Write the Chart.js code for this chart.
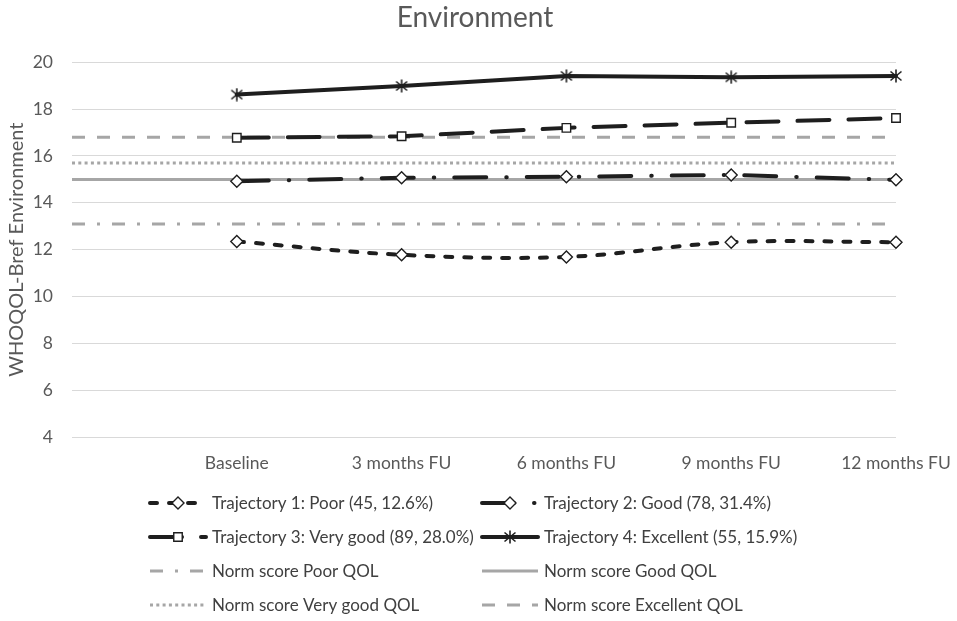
<!DOCTYPE html>
<html>
<head>
<meta charset="utf-8">
<script src="https://cdn.jsdelivr.net/npm/chart.js@4.4.1/dist/chart.umd.min.js"></script>
<style>
  html, body { margin: 0; padding: 0; background: #ffffff; }
  #wrap { width: 957px; height: 621px; }
</style>
</head>
<body>
<div id="wrap"><canvas id="c" width="957" height="621"></canvas></div>
<script>
// Time points (the first slot is an empty lead-in so the norm lines start at the axis)
const categories = ['', 'Baseline', '3 months FU', '6 months FU', '9 months FU', '12 months FU'];

// Mean WHOQOL-Bref Environment score per trajectory group
const trajPoor      = [null, 12.35, 11.78, 11.69, 12.32, 12.32];
const trajGood      = [null, 14.92, 15.07, 15.11, 15.19, 14.98];
const trajVeryGood  = [null, 16.78, 16.84, 17.20, 17.42, 17.62];
const trajExcellent = [null, 18.62, 18.99, 19.42, 19.36, 19.42];

// Population norm scores per QOL level
const normPoor      = [13.1, 13.1, 13.1, 13.1, 13.1, 13.1];
const normGood      = [15.0, 15.0, 15.0, 15.0, 15.0, 15.0];
const normVeryGood  = [15.7, 15.7, 15.7, 15.7, 15.7, 15.7];
const normExcellent = [16.8, 16.8, 16.8, 16.8, 16.8, 16.8];

const seriesLabels = [
  'Trajectory 1: Poor (45, 12.6%)',
  'Trajectory 2: Good (78, 31.4%)',
  'Trajectory 3: Very good (89, 28.0%)',
  'Trajectory 4: Excellent (55, 15.9%)',
  'Norm score Poor QOL',
  'Norm score Good QOL',
  'Norm score Very good QOL',
  'Norm score Excellent QOL'
];

const chartTitle = 'Environment';
const yTitle = 'WHOQOL-Bref Environment';
const yMin = 4, yMax = 20, yStep = 2;

const INK = '#1e1e1e';
const GREY = '#a6a6a6';
const TEXT = '#595959';
const FONT = 'Lato, "Open Sans", sans-serif';

// Asterisk-style marker: an X crossed by a vertical stroke
function makeStar(size) {
  const cv = document.createElement('canvas');
  cv.width = size; cv.height = size;
  const g = cv.getContext('2d');
  g.strokeStyle = INK; g.lineWidth = 1.6; g.lineCap = 'butt';
  const m = 1.5, s = size - 1.5;
  g.beginPath();
  g.moveTo(m, m + 1); g.lineTo(s, s - 1);
  g.moveTo(s, m + 1); g.lineTo(m, s - 1);
  g.moveTo(size / 2, 0.5); g.lineTo(size / 2, size - 0.5);
  g.stroke();
  return cv;
}
const starMarker = makeStar(14);

function traj(label, data, dash, pointStyle, tension) {
  return {
    label, data,
    borderColor: INK, borderWidth: 4, borderDash: dash, borderCapStyle: 'round',
    pointStyle, pointRadius: 6, pointHoverRadius: 6,
    pointBackgroundColor: '#ffffff', pointBorderColor: INK, pointBorderWidth: 1.4,
    tension: tension, fill: false
  };
}
function norm(label, data, dash) {
  return {
    label, data,
    borderColor: GREY, borderWidth: 3, borderDash: dash, borderCapStyle: 'butt',
    pointRadius: 0, pointHoverRadius: 0, tension: 0, fill: false
  };
}

const datasets = [
  traj(seriesLabels[0], trajPoor, [7, 12], 'rectRot', 0.35),
  traj(seriesLabels[1], trajGood, [32, 20, 0.5, 20], 'rectRot', 0),
  traj(seriesLabels[2], trajVeryGood, [32, 19], 'rect', 0),
  traj(seriesLabels[3], trajExcellent, [], starMarker, 0),
  norm(seriesLabels[4], normPoor, [13, 12, 3, 12]),
  norm(seriesLabels[5], normGood, []),
  norm(seriesLabels[6], normVeryGood, [3, 3.3]),
  norm(seriesLabels[7], normExcellent, [13, 12])
];

// Chart heading, centred over the whole figure
const heading = {
  id: 'heading',
  afterDraw(chart) {
    const ctx = chart.ctx;
    ctx.save();
    ctx.fillStyle = TEXT;
    ctx.font = '28px ' + FONT;
    ctx.textAlign = 'center';
    ctx.textBaseline = 'middle';
    ctx.fillText(chartTitle, 475, 18);
    ctx.restore();
  }
};

// Two-column legend drawn under the plot
const gridLegend = {
  id: 'gridLegend',
  afterDraw(chart) {
    const ctx = chart.ctx;
    const cols = [150, 482];
    const rows = [503, 537, 571, 605];
    const sample = 56;
    chart.data.datasets.forEach((ds, i) => {
      const x = cols[i % 2], y = rows[Math.floor(i / 2)];
      ctx.save();
      ctx.strokeStyle = ds.borderColor;
      ctx.lineWidth = ds.borderWidth;
      ctx.setLineDash(ds.borderDash || []);
      ctx.lineCap = ds.borderCapStyle || 'butt';
      ctx.beginPath();
      ctx.moveTo(x, y); ctx.lineTo(x + sample, y);
      ctx.stroke();
      if (ds.pointRadius > 0) {
        ctx.setLineDash([]);
        ctx.fillStyle = ds.pointBackgroundColor;
        ctx.strokeStyle = ds.pointBorderColor;
        ctx.lineWidth = ds.pointBorderWidth;
        Chart.helpers.drawPoint(ctx, {
          pointStyle: ds.pointStyle, radius: ds.pointRadius,
          borderWidth: ds.pointBorderWidth, rotation: 0
        }, x + sample / 2, y);
      }
      ctx.fillStyle = '#404040';
      ctx.font = '17px ' + FONT;
      ctx.textBaseline = 'middle';
      ctx.textAlign = 'left';
      ctx.fillText(ds.label, x + sample + 6, y + 1);
      ctx.restore();
    });
  }
};

new Chart(document.getElementById('c'), {
  type: 'line',
  data: { labels: categories, datasets },
  plugins: [heading, gridLegend],
  options: {
    responsive: false,
    animation: false,
    devicePixelRatio: 1,
    layout: { padding: { left: 0, right: 0, top: 62.3, bottom: 140 } },
    plugins: {
      legend: { display: false },
      tooltip: { enabled: false },
      title: { display: false }
    },
    scales: {
      x: {
        offset: false,
        grid: { display: false, drawTicks: false },
        border: { display: false },
        ticks: { color: TEXT, font: { family: FONT, size: 17.5 }, padding: 16, maxRotation: 0, autoSkip: false },
        afterFit(scale) {
          scale.height = 44;
          scale.paddingLeft = 0;
          scale.paddingRight = 61;
        }
      },
      y: {
        min: yMin, max: yMax,
        grid: { color: '#d9d9d9', lineWidth: 1, drawTicks: false },
        border: { display: false },
        ticks: { stepSize: yStep, color: TEXT, font: { family: FONT, size: 17.5 }, padding: 19 },
        title: {
          display: true, text: yTitle, color: TEXT,
          font: { family: FONT, size: 20 }, padding: { top: 5, bottom: 0 }
        },
        afterFit(scale) { scale.width = 72; }
      }
    }
  }
});
</script>
</body>
</html>
